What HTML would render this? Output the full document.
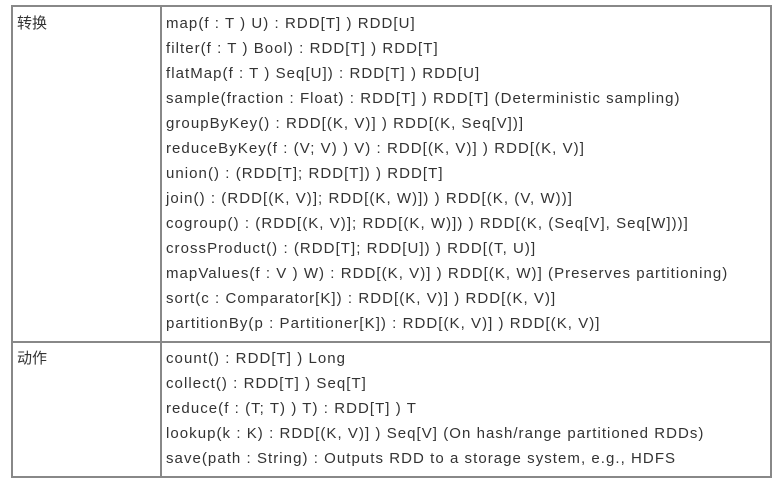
<!DOCTYPE html>
<html><head><meta charset="utf-8"><style>
body{margin:0;width:777px;height:483px;background:#fff;position:relative;overflow:hidden;font-family:"Liberation Sans","Noto Sans CJK SC",sans-serif;color:#333;}
.b{position:absolute;background:#888;}
.t{position:absolute;left:166px;font-size:15px;letter-spacing:1.05px;white-space:nowrap;line-height:18px;}
.l{position:absolute;left:17px;font-size:15px;line-height:18px;}
</style></head><body>
<div class="b" style="left:11px;top:5px;width:761px;height:2px"></div>
<div class="b" style="left:11px;top:341px;width:761px;height:2px"></div>
<div class="b" style="left:11px;top:476px;width:761px;height:2px"></div>
<div class="b" style="left:11px;top:5px;width:2px;height:473px"></div>
<div class="b" style="left:160px;top:5px;width:2px;height:473px"></div>
<div class="b" style="left:770px;top:5px;width:2px;height:473px"></div>
<div class="l" style="top:15px">转换</div>
<div class="l" style="top:350px">动作</div>
<div class="t" style="top:15px">map(f : T ) U) : RDD[T] ) RDD[U]</div>
<div class="t" style="top:40px">filter(f : T ) Bool) : RDD[T] ) RDD[T]</div>
<div class="t" style="top:65px">flatMap(f : T ) Seq[U]) : RDD[T] ) RDD[U]</div>
<div class="t" style="top:90px">sample(fraction : Float) : RDD[T] ) RDD[T] (Deterministic sampling)</div>
<div class="t" style="top:115px">groupByKey() : RDD[(K, V)] ) RDD[(K, Seq[V])]</div>
<div class="t" style="top:140px">reduceByKey(f : (V; V) ) V) : RDD[(K, V)] ) RDD[(K, V)]</div>
<div class="t" style="top:165px">union() : (RDD[T]; RDD[T]) ) RDD[T]</div>
<div class="t" style="top:190px">join() : (RDD[(K, V)]; RDD[(K, W)]) ) RDD[(K, (V, W))]</div>
<div class="t" style="top:215px">cogroup() : (RDD[(K, V)]; RDD[(K, W)]) ) RDD[(K, (Seq[V], Seq[W]))]</div>
<div class="t" style="top:240px">crossProduct() : (RDD[T]; RDD[U]) ) RDD[(T, U)]</div>
<div class="t" style="top:265px">mapValues(f : V ) W) : RDD[(K, V)] ) RDD[(K, W)] (Preserves partitioning)</div>
<div class="t" style="top:290px">sort(c : Comparator[K]) : RDD[(K, V)] ) RDD[(K, V)]</div>
<div class="t" style="top:315px">partitionBy(p : Partitioner[K]) : RDD[(K, V)] ) RDD[(K, V)]</div>
<div class="t" style="top:350px">count() : RDD[T] ) Long</div>
<div class="t" style="top:375px">collect() : RDD[T] ) Seq[T]</div>
<div class="t" style="top:400px">reduce(f : (T; T) ) T) : RDD[T] ) T</div>
<div class="t" style="top:425px">lookup(k : K) : RDD[(K, V)] ) Seq[V] (On hash/range partitioned RDDs)</div>
<div class="t" style="top:450px">save(path : String) : Outputs RDD to a storage system, e.g., HDFS</div>
</body></html>
